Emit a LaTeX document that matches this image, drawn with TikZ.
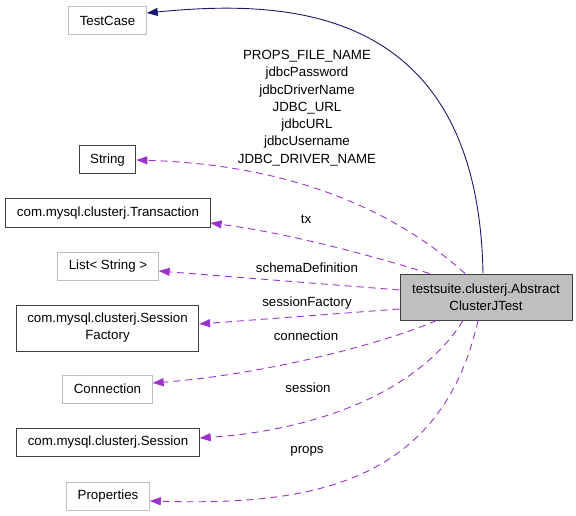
\documentclass[tikz,border=0pt]{standalone}
\usepackage{fontspec}
\setmainfont{Liberation Sans}
\usetikzlibrary{arrows.meta}

\definecolor{edgeblue}{HTML}{191970}
\definecolor{fieldpurple}{HTML}{9A32CD}
\definecolor{boxgray}{HTML}{BFBFBF}

\begin{document}
\begin{tikzpicture}[x=1pt, y=-1pt,
class box/.style = {draw=black!75, line width=1pt,
                    inner xsep=11pt, inner ysep=0pt,
                    minimum height=28pt, align=center,
                    font=\fontsize{13.3}{17}\selectfont},
ext box/.style   = {class box, draw=boxgray},
main box/.style  = {class box, fill=boxgray,
                    minimum height=46pt, minimum width=172pt},
inherit/.style   = {draw=edgeblue, line width=0.9pt,
                    -{Triangle[length=11pt,width=8pt]}},
uses/.style      = {draw=fieldpurple, line width=0.9pt,
                    dash pattern=on 7pt off 5pt,
                    -{Triangle[length=11pt,width=8pt]}},
field/.style     = {inner sep=0pt, align=center,
                    font=\fontsize{13.3}{17.3}\selectfont}
                   ]
\useasboundingbox (0,0) rectangle (576,516);

\node[ext box]   (tc) at (107.5,21)  {TestCase};
\node[class box] (str) at (107.5,160) {String};
\node[class box] (tr) at (108,213)   {com.mysql.clusterj.Transaction};
\node[ext box]   (ls) at (108,266)   {List< String >};
\node[class box, minimum height=46pt] (sf) at (107.5,328)
                 {com.mysql.clusterj.Session\\Factory};
\node[ext box]   (cn) at (107.5,389) {Connection};
\node[class box] (ss) at (108,442.5) {com.mysql.clusterj.Session};
\node[ext box]   (pr) at (108,496)   {Properties};
\node[main box]  (at) at (486,297)   {testsuite.clusterj.Abstract\\ClusterJTest};

\draw[inherit] ([xshift=-3pt]at.north) .. controls (478,0) and (280,0) .. ([yshift=8pt]tc.east);
\draw[uses] ([xshift=-21pt]at.north) .. controls (400,215) and (300,165) .. (str.east);
\draw[uses] ([xshift=30pt]at.north west) .. controls (360,252) and (280,232) .. ([yshift=-10pt]tr.east);
\draw[uses] ([yshift=7pt]at.west) -- ([yshift=-5pt]ls.east);
\draw[uses] ([yshift=-12pt]at.west) -- ([yshift=4pt]sf.east);
\draw[uses] ([xshift=37pt]at.south west) .. controls (380,345) and (260,375) .. ([yshift=6pt]cn.east);
\draw[uses] ([xshift=-23pt]at.south) .. controls (420,390) and (320,430) .. ([yshift=4.5pt]ss.east);
\draw[uses] ([xshift=-8pt]at.south) .. controls (440,490) and (300,505) .. ([yshift=-5pt]pr.east);

\node[field] (str label) at (307,108) {PROPS\_FILE\_NAME\\jdbcPassword\\jdbcDriverName\\JDBC\_URL\\jdbcURL\\jdbcUsername\\JDBC\_DRIVER\_NAME};
\node[field] (tr label) at (306,219) {tx};
\node[field] (ls label) at (307,268) {schemaDefinition};
\node[field] (sf label) at (307,303) {sessionFactory};
\node[field] (cn label) at (306,336) {connection};
\node[field] (ss label) at (308,388) {session};
\node[field] (pr label) at (307,451) {props};

\end{tikzpicture}
\end{document}
